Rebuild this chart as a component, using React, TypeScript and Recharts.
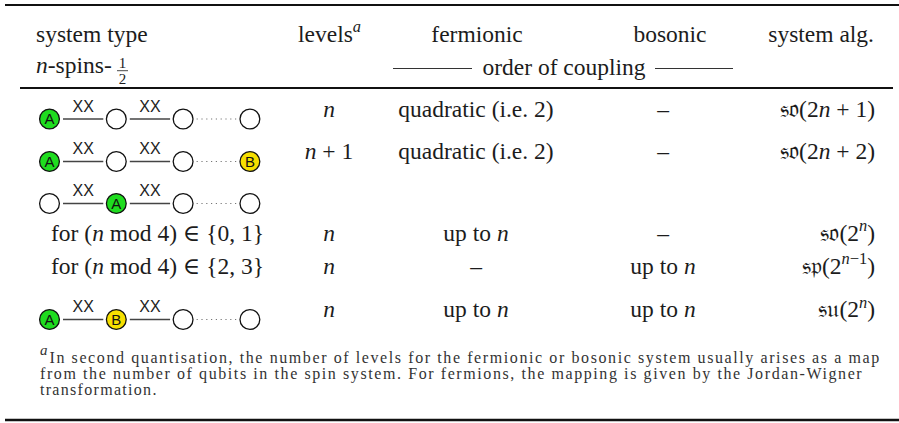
import React from 'react'
import { ScatterChart, Scatter, XAxis, YAxis, ReferenceLine } from 'recharts'

const W = 899
const H = 423

// ---- table content ----
const headerTop = ['system type', 'levels^{$a$}', 'fermionic', 'bosonic', 'system alg.']
const headerSub = '$n$-spins-'
const headerFrac = ['1', '2']
const couplingCaption = 'order of coupling'

const chains: (string[] | null)[] = [
  ['A', '', '', ''],
  ['A', '', '', 'B'],
  ['', 'A', '', ''],
  null,
  null,
  ['A', 'B', '', ''],
]
const bondLabels = ['XX', 'XX', '']
const chainNotes = ['', '', '', 'for ($n$ mod 4) ∈ {0, 1}', 'for ($n$ mod 4) ∈ {2, 3}', '']
const levels = ['$n$', '$n$ + 1', '', '$n$', '$n$', '$n$']
const fermionic = ['quadratic (i.e. 2)', 'quadratic (i.e. 2)', '', 'up to $n$', '–', 'up to $n$']
const bosonic = ['–', '–', '', '–', 'up to $n$', 'up to $n$']
const algebra = [
  '\u{1D530}\u{1D52C}(2$n$ + 1)',
  '\u{1D530}\u{1D52C}(2$n$ + 2)',
  '',
  '\u{1D530}\u{1D52C}(2^{$n$})',
  '\u{1D530}\u{1D52D}(2^{$n$−1})',
  '\u{1D530}\u{1D532}(2^{$n$})',
]
const footMark = 'a'
const footnote = [
  'In second quantisation, the number of levels for the fermionic or bosonic system usually arises as a map',
  'from the number of qubits in the spin system. For fermions, the mapping is given by the Jordan-Wigner',
  'transformation.',
]

// ---- layout ----
const SERIF = "'Liberation Serif', 'Times New Roman', 'DejaVu Serif', serif"
const SANS = "'Liberation Sans', Arial, sans-serif"
const INK = '#1c1c1c'
const FS = 23.5
const RULES = { top: 5, mid: 88, bottom: 420 }
const HEAD_Y = [41.5, 72.5]
const HEAD_X = [36, 298, 477, 670, 874]
const HEAD_ANCHOR = ['start', 'start', 'middle', 'middle', 'end']
const ROW_Y = [119, 161.5, 203.5, 243, 276, 319.5]
const COL = { note: 157.5, levels: 329, ferm: 476, bos: 663, alg: 875 }
const NODE_X0 = 49.5
const NODE_DX = 66.8
const NODE_R = 9.9
const NODE_FILL: Record<string, string> = { A: '#1fdc1f', B: '#f6df00', '': '#ffffff' }
const FOOT = { x: 49.5, y: 363.3, dy: 15.6, x2: 40, widths: [831, 823, 0] }

type Part = { t: string; it: boolean; sup: boolean }

function parse(s: string): Part[] {
  const parts: Part[] = []
  let buf = ''
  let it = false
  let sup = false
  const flush = () => {
    if (buf) parts.push({ t: buf, it, sup })
    buf = ''
  }
  for (let i = 0; i < s.length; i++) {
    const c = s[i]
    if (c === '$') { flush(); it = !it; continue }
    if (c === '^' && s[i + 1] === '{') { flush(); sup = true; i++; continue }
    if (c === '}' && sup) { flush(); sup = false; continue }
    buf += c
  }
  flush()
  return parts
}

function Rich({ x, y, s, anchor, size }: { x: number; y: number; s: string; anchor: any; size: number }) {
  const parts = parse(s)
  let prevSup = false
  return (
    <text x={x} y={y} textAnchor={anchor} style={{ fontFamily: SERIF, fontSize: size }} fill={INK}>
      {parts.map((p, i) => {
        let dy = 0
        if (p.sup && !prevSup) dy = -size * 0.4
        if (!p.sup && prevSup) dy = size * 0.4
        prevSup = p.sup
        return (
          <tspan
            key={i}
            dy={dy || undefined}
            style={{ fontStyle: p.it ? 'italic' : 'normal', fontSize: p.sup ? size * 0.7 : size }}
          >
            {p.t}
          </tspan>
        )
      })}
    </text>
  )
}

// ---- marks built from the arrays ----
const textCells: any[] = []
headerTop.forEach((t, i) => textCells.push({ x: HEAD_X[i], y: HEAD_Y[0], text: t, anchor: HEAD_ANCHOR[i], size: FS }))
textCells.push({ x: HEAD_X[0], y: HEAD_Y[1], text: headerSub, anchor: 'start', size: FS })
textCells.push({ x: 564, y: HEAD_Y[1] + 2, text: couplingCaption, anchor: 'middle', size: FS })
const cols: [string[], number, string][] = [
  [chainNotes, COL.note, 'middle'],
  [levels, COL.levels, 'middle'],
  [fermionic, COL.ferm, 'middle'],
  [bosonic, COL.bos, 'middle'],
  [algebra, COL.alg, 'end'],
]
cols.forEach(([arr, x, anchor]) =>
  arr.forEach((t, r) => {
    if (t) textCells.push({ x, y: ROW_Y[r] - 2.5, text: t, anchor, size: FS })
  })
)

const nodes: any[] = []
const bonds: any[] = []
chains.forEach((chain, r) => {
  if (!chain) return
  chain.forEach((label, i) => {
    nodes.push({ x: NODE_X0 + i * NODE_DX, y: ROW_Y[r], label })
    if (i < chain.length - 1) {
      bonds.push({
        x1: NODE_X0 + i * NODE_DX + 13.5,
        x2: NODE_X0 + (i + 1) * NODE_DX - 13,
        y: ROW_Y[r],
        label: bondLabels[i],
      })
    }
  })
})
const bondText = bonds.filter((b) => b.label).map((b) => ({ x: (b.x1 + b.x2) / 2, y: b.y - 7.5, label: b.label }))

const fracData = [{ x: 122.5, y: 70.7, num: headerFrac[0], den: headerFrac[1] }]
const footData = footnote.map((t, i) => ({ x: i === 0 ? FOOT.x : FOOT.x2, y: FOOT.y + i * FOOT.dy, text: t, w: FOOT.widths[i] }))
const footMarkData = [{ x: 40, y: 355, text: footMark }]

const TextShape = (p: any) => <Rich x={p.cx} y={p.cy} s={p.payload.text} anchor={p.payload.anchor} size={p.payload.size} />

const NodeShape = (p: any) => (
  <g>
    <circle cx={p.cx} cy={p.cy} r={NODE_R} fill={NODE_FILL[p.payload.label]} stroke="#111" strokeWidth={1.3} />
    {p.payload.label && (
      <text x={p.cx} y={p.cy + 5.3} textAnchor="middle" style={{ fontFamily: SANS, fontSize: 15 }} fill="#111">
        {p.payload.label}
      </text>
    )}
  </g>
)

const BondTextShape = (p: any) => (
  <text x={p.cx} y={p.cy} textAnchor="middle" style={{ fontFamily: SANS, fontSize: 16 }} fill="#222">
    {p.payload.label}
  </text>
)

const FracShape = (p: any) => (
  <g style={{ fontFamily: SERIF, fontSize: 15 }} fill={INK}>
    <text x={p.cx} y={p.cy - 3} textAnchor="middle">{p.payload.num}</text>
    <line x1={p.cx - 5.5} x2={p.cx + 5.5} y1={p.cy} y2={p.cy} stroke={INK} strokeWidth={0.8} />
    <text x={p.cx} y={p.cy + 13.5} textAnchor="middle">{p.payload.den}</text>
  </g>
)

const FootShape = (p: any) => (
  <text
    x={p.cx}
    y={p.cy}
    style={{ fontFamily: SERIF, fontSize: 16, letterSpacing: 1.3 }}
    fill="#333"
    textLength={p.payload.w || undefined}
    lengthAdjust={p.payload.w ? 'spacing' : undefined}
  >
    {p.payload.text}
  </text>
)

const FootMarkShape = (p: any) => (
  <text x={p.cx} y={p.cy} style={{ fontFamily: SERIF, fontStyle: 'italic', fontSize: 15 }} fill="#333">
    {p.payload.text}
  </text>
)

export default function App() {
  return (
    <div style={{ position: 'absolute', left: 0, top: 0, width: W, height: H, background: '#fff' }}>
      <ScatterChart width={W} height={H} margin={{ top: 0, right: 0, bottom: 0, left: 0 }}>
        <XAxis type="number" dataKey="x" domain={[0, W]} hide allowDataOverflow />
        <YAxis type="number" dataKey="y" domain={[0, H]} reversed hide allowDataOverflow width={0} />

        <ReferenceLine segment={[{ x: 5, y: RULES.top }, { x: W, y: RULES.top }]} stroke="#111" strokeWidth={2} ifOverflow="visible" />
        <ReferenceLine segment={[{ x: 20, y: RULES.mid }, { x: 893, y: RULES.mid }]} stroke="#111" strokeWidth={2} ifOverflow="visible" />
        <ReferenceLine segment={[{ x: 5, y: RULES.bottom }, { x: W, y: RULES.bottom }]} stroke="#111" strokeWidth={2.5} ifOverflow="visible" />
        <ReferenceLine segment={[{ x: 393, y: 68.5 }, { x: 472, y: 68.5 }]} stroke="#333" strokeWidth={1} ifOverflow="visible" />
        <ReferenceLine segment={[{ x: 655, y: 68.5 }, { x: 733, y: 68.5 }]} stroke="#333" strokeWidth={1} ifOverflow="visible" />

        {bonds.map((b, i) => (
          <ReferenceLine
            key={'b' + i}
            segment={[{ x: b.x1, y: b.y }, { x: b.x2, y: b.y }]}
            stroke={b.label ? '#444' : '#777'}
            strokeWidth={b.label ? 1.4 : 1.2}
            strokeDasharray={b.label ? undefined : '1.2 3.6'}
            ifOverflow="visible"
          />
        ))}

        <Scatter data={nodes} shape={NodeShape} isAnimationActive={false} />
        <Scatter data={bondText} shape={BondTextShape} isAnimationActive={false} />
        <Scatter data={textCells} shape={TextShape} isAnimationActive={false} />
        <Scatter data={fracData} shape={FracShape} isAnimationActive={false} />
        <Scatter data={footMarkData} shape={FootMarkShape} isAnimationActive={false} />
        <Scatter data={footData} shape={FootShape} isAnimationActive={false} />
      </ScatterChart>
    </div>
  )
}
